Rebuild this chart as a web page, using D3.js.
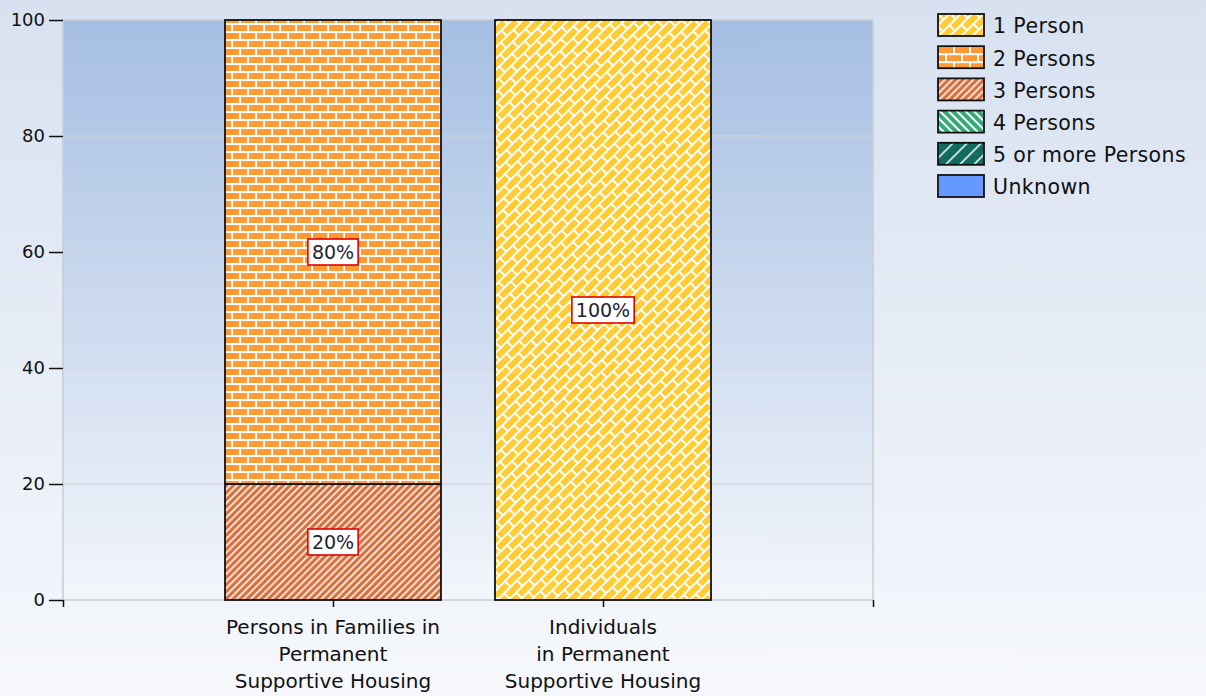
<!DOCTYPE html>
<html>
<head>
<meta charset="utf-8">
<script src="https://cdn.jsdelivr.net/npm/d3@7"></script>
<style>
  html, body { margin: 0; padding: 0; }
  body { width: 1206px; height: 696px; overflow: hidden; }
  text { font-family: "DejaVu Sans", Verdana, sans-serif; }
</style>
</head>
<body>
<div id="chart"></div>
<script>
/* data */
var categories = [
	["Persons in Families in", "Permanent", "Supportive Housing"],
	["Individuals", "in Permanent", "Supportive Housing"]
];
var seriesNames = ["1 Person", "2 Persons", "3 Persons", "4 Persons", "5 or more Persons", "Unknown"];
// percent per series, one value per category
var onePerson   = [0, 100];
var twoPersons  = [80, 0];
var threePersons = [20, 0];
var fourPersons = [0, 0];
var fivePlus    = [0, 0];
var unknown     = [0, 0];
var yTicks = [0, 20, 40, 60, 80, 100];

var seriesValues = [onePerson, twoPersons, threePersons, fourPersons, fivePlus, unknown];
var fills = ["url(#p1)", "url(#p2)", "url(#p3)", "url(#p4)", "url(#p5)", "#6699ff"];

var W = 1206, H = 696;
var m = {left: 63, right: 333, top: 20, bottom: 96};

var svg = d3.select("#chart").append("svg")
	.attr("width", W)
	.attr("height", H);

var defs = svg.append("defs");

var bg = defs.append("linearGradient").attr("id", "bg").attr("x1", 0).attr("y1", 0).attr("x2", 0).attr("y2", 1);
bg.append("stop").attr("offset", 0).attr("stop-color", "#d7e1f0");
bg.append("stop").attr("offset", 1).attr("stop-color", "#f6f8fc");

var pg = defs.append("linearGradient").attr("id", "pg").attr("x1", 0).attr("y1", 0).attr("x2", 0).attr("y2", 1);
pg.append("stop").attr("offset", 0).attr("stop-color", "#a5bee3");
pg.append("stop").attr("offset", 1).attr("stop-color", "#f3f6fb");

//brick pattern, used straight for 2 persons and turned for 1 person
var brick = function(id, color, rot, bl){
	var p = defs.append("pattern").attr("id", id)
		.attr("patternUnits", "userSpaceOnUse")
		.attr("width", bl).attr("height", 16);
	if(rot) p.attr("patternTransform", "rotate(" + rot + ")");
	p.append("rect").attr("width", bl).attr("height", 16).attr("fill", "#fff");
	[[1, 1], [bl / 2 + 1, 9], [-bl / 2 + 1, 9]].forEach(function(r){
		p.append("rect").attr("x", r[0]).attr("y", r[1]).attr("width", bl - 2).attr("height", 6).attr("fill", color);
	});
};
brick("p2", "#ff9933", 0, 16);
brick("p1", "#ffcc33", -45, 18);

var stripes = function(id, color, size, line, rot){
	var p = defs.append("pattern").attr("id", id)
		.attr("patternUnits", "userSpaceOnUse")
		.attr("width", size).attr("height", size)
		.attr("patternTransform", "rotate(" + rot + ")");
	p.append("rect").attr("width", size).attr("height", size).attr("fill", color);
	p.append("rect").attr("width", line).attr("height", size).attr("fill", "#fff");
};
stripes("p3", "#dc6f3c", 5, 1.6, 45);
stripes("p4", "#33aa77", 6, 2, -45);
stripes("p5", "#116b60", 10, 1.5, 45);

svg.append("rect").attr("width", W).attr("height", H).attr("fill", "url(#bg)");

var x = d3.scaleLinear().domain([0, 3]).range([m.left, W - m.right]);
var y = d3.scaleLinear().domain([0, 100]).range([H - m.bottom, m.top]);

svg.append("rect")
	.attr("x", x(0)).attr("y", y(100))
	.attr("width", x(3) - x(0)).attr("height", y(0) - y(100))
	.attr("fill", "url(#pg)")
	.attr("stroke", "#c8cdd4").attr("stroke-width", 1.5);

svg.append("g").selectAll("line")
	.data(yTicks.slice(1, -1))
	.enter().append("line")
	.attr("x1", x(0)).attr("x2", x(3))
	.attr("y1", function(d){ return y(d); }).attr("y2", function(d){ return y(d); })
	.attr("stroke", "#d0d4da").attr("stroke-width", 1.2);

//stack bottom to top: Unknown first, 1 Person last
var rows = categories.map(function(c, i){
	var r = {i: i};
	seriesNames.forEach(function(s, k){ r[s] = seriesValues[k][i]; });
	return r;
});
var stack = d3.stack().keys(seriesNames.slice().reverse());
var layers = stack(rows);

var bw = 0.8;
var segs = [];
layers.forEach(function(layer){
	var k = seriesNames.indexOf(layer.key);
	layer.forEach(function(d){
		if(d[1] - d[0] > 0) segs.push({k: k, i: d.data.i, y0: d[0], y1: d[1]});
	});
});

svg.append("g").selectAll("rect")
	.data(segs)
	.enter().append("rect")
	.attr("x", function(d){ return x(d.i + 1 - bw / 2); })
	.attr("width", function(d){ return x(d.i + 1 + bw / 2) - x(d.i + 1 - bw / 2); })
	.attr("y", function(d){ return y(d.y1); })
	.attr("height", function(d){ return y(d.y0) - y(d.y1); })
	.attr("fill", function(d){ return fills[d.k]; })
	.attr("stroke", "#111").attr("stroke-width", 1.8);

//value labels
var lab = svg.append("g").selectAll("g")
	.data(segs)
	.enter().append("g")
	.attr("transform", function(d){ return "translate(" + x(d.i + 1) + "," + y((d.y0 + d.y1) / 2) + ")"; });
lab.append("rect")
	.attr("y", -13).attr("height", 26)
	.attr("fill", "#fff").attr("stroke", "#e00000").attr("stroke-width", 1.6);
lab.append("text")
	.attr("text-anchor", "middle").attr("dy", "0.36em")
	.attr("font-size", 19).attr("fill", "#223")
	.text(function(d){ return Math.round(d.y1 - d.y0) + "%"; });
lab.each(function(){
	var g = d3.select(this);
	var tw = g.select("text").node().getComputedTextLength();
	g.select("rect").attr("x", -tw / 2 - 4).attr("width", tw + 8);
});

//axes
var yAxis = svg.append("g")
	.attr("transform", "translate(" + x(0) + ",0)")
	.call(d3.axisLeft(y).tickValues(yTicks).tickSize(14).tickPadding(4));
yAxis.select(".domain").remove();
yAxis.selectAll("text").attr("font-size", 18).attr("fill", "#111")
	.style("font-family", "'DejaVu Sans', sans-serif");
yAxis.selectAll("line").attr("stroke", "#111").attr("stroke-width", 1.5);

var xAxis = svg.append("g")
	.attr("transform", "translate(0," + y(0) + ")")
	.call(d3.axisBottom(x).tickValues([0, 1, 2, 3]).tickSize(7).tickFormat(""));
xAxis.select(".domain").remove();
xAxis.selectAll("line").attr("stroke", "#111").attr("stroke-width", 1.5);

svg.append("g").selectAll("text")
	.data(categories)
	.enter().append("text")
	.attr("text-anchor", "middle")
	.attr("font-size", 20).attr("fill", "#111")
	.attr("x", function(d, i){ return x(i + 1); })
	.attr("y", 634)
	.each(function(d){
		var t = d3.select(this);
		d.forEach(function(line, j){
			t.append("tspan").attr("x", t.attr("x")).attr("dy", j ? 27 : 0).text(line);
		});
	});

//legend
var leg = svg.append("g").selectAll("g")
	.data(seriesNames)
	.enter().append("g")
	.attr("transform", function(d, i){ return "translate(938," + (14 + i * 32.2) + ")"; });
leg.append("rect")
	.attr("width", 46).attr("height", 22)
	.attr("fill", function(d, i){ return fills[i]; })
	.attr("stroke", "#111").attr("stroke-width", 1.8);
leg.append("text")
	.attr("x", 55).attr("y", 12).attr("dy", "0.36em")
	.attr("font-size", 20.5).attr("fill", "#111")
	.attr("letter-spacing", 0.4)
	.text(function(d){ return d; });
</script>
</body>
</html>
